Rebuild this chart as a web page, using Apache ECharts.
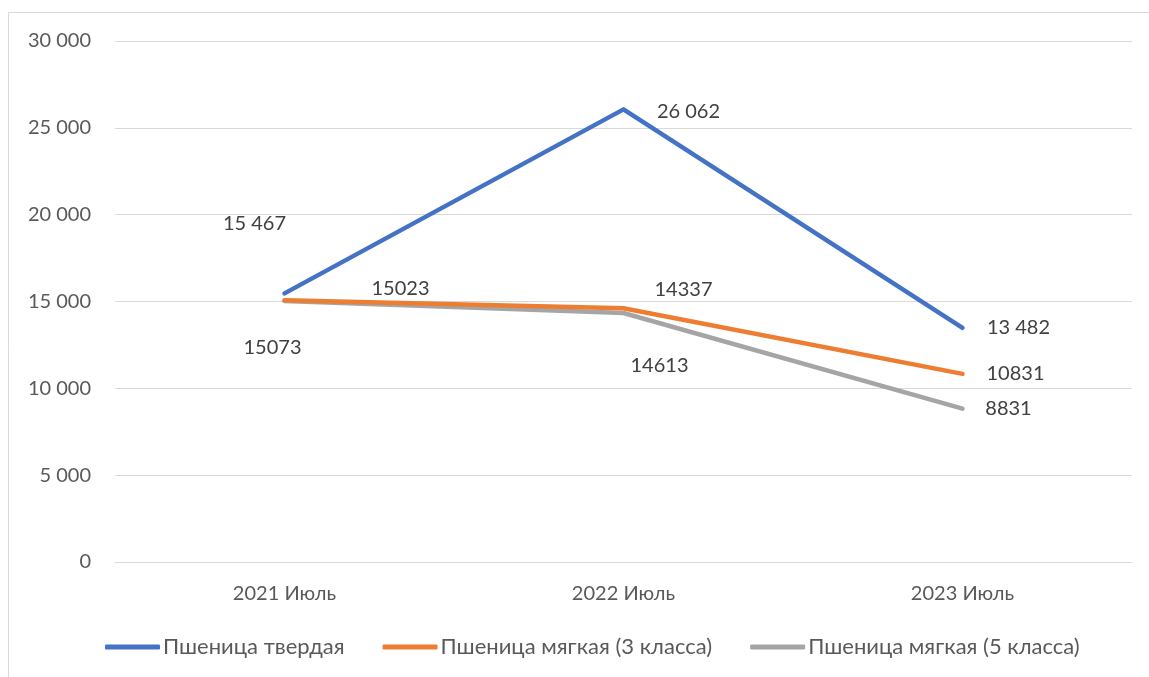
<!DOCTYPE html>
<html>
<head>
<meta charset="utf-8">
<script src="https://cdn.jsdelivr.net/npm/echarts@6/dist/echarts.min.js"></script>
<style>
html,body{margin:0;padding:0;background:#fff;}
#c{width:1149px;height:677px;}
</style>
</head>
<body>
<div id="c"></div>
<script>
const categories = ['2021 Июль', '2022 Июль', '2023 Июль'];
const seriesNames = ['Пшеница твердая', 'Пшеница мягкая (3 класса)', 'Пшеница мягкая (5 класса)'];
const durum = [15467, 26062, 13482];
const soft3 = [15073, 14613, 10831];
const soft5 = [15023, 14337, 8831];
const yTicks = [0, 5000, 10000, 15000, 20000, 25000, 30000];

const colors = ['#4472C4', '#ED7D31', '#A5A5A5'];
const labelOffsets = [
  [[-30, -70], [65, 2], [56, 0]],
  [[-12, 47], [36, 57], [53, 0]],
  [[116, -13], [60, -23], [46, 0]]
];
const FONT = 'Lato, "Open Sans", sans-serif';

function spaced(v) {
  return String(v).replace(/\B(?=(\d{3})+(?!\d))/g, ' ');
}

function makeSeries(name, values, idx, useSpace) {
  return {
    name: name,
    type: 'line',
    data: values,
    symbol: 'circle',
    symbolSize: 1,
    showSymbol: true,
    lineStyle: { width: 4.5, color: colors[idx], cap: 'round', join: 'round' },
    itemStyle: { color: colors[idx] },
    label: {
      show: true,
      position: 'inside',
      align: 'center',
      verticalAlign: 'middle',
      color: '#404040',
      fontSize: 20,
      fontFamily: FONT,
      formatter: p => useSpace ? spaced(p.value) : String(p.value)
    },
    labelLayout: p => ({
      dx: labelOffsets[idx][p.dataIndex][0],
      dy: labelOffsets[idx][p.dataIndex][1],
      hideOverlap: false
    }),
    z: 3 - idx
  };
}

const chart = echarts.init(document.getElementById('c'), null, { renderer: 'canvas' });
chart.setOption({
  animation: false,
  backgroundColor: '#fff',
  color: colors,
  graphic: [{
    type: 'rect',
    shape: { x: 8.5, y: 12.5, width: 1200, height: 700 },
    style: { fill: 'none', stroke: '#D9D9D9', lineWidth: 1 },
    silent: true
  }],
  grid: { left: 115, right: 17, top: 41, bottom: 115, containLabel: false },
  xAxis: {
    type: 'category',
    data: categories,
    boundaryGap: true,
    axisLine: { show: true, lineStyle: { color: '#D9D9D9', width: 1 } },
    axisTick: { show: false },
    axisLabel: { color: '#595959', fontSize: 20, fontFamily: FONT, margin: 22 }
  },
  yAxis: {
    type: 'value',
    min: yTicks[0],
    max: yTicks[yTicks.length - 1],
    interval: yTicks[1] - yTicks[0],
    axisLine: { show: false },
    axisTick: { show: false },
    splitLine: { lineStyle: { color: '#D9D9D9', width: 1 } },
    axisLabel: { color: '#595959', fontSize: 20, fontFamily: FONT, margin: 24, formatter: v => spaced(v) }
  },
  legend: {
    bottom: 14,
    left: 100,
    itemWidth: 55,
    itemHeight: 5,
    itemGap: 38,
    data: seriesNames.map((n, i) => ({
      name: n,
      icon: 'roundRect',
      itemStyle: { color: colors[i] }
    })),
    textStyle: { color: '#595959', fontSize: 22, fontFamily: FONT, padding: [0, 0, 0, -2] }
  },
  series: [
    makeSeries(seriesNames[0], durum, 0, true),
    makeSeries(seriesNames[1], soft3, 1, false),
    makeSeries(seriesNames[2], soft5, 2, false)
  ]
});
</script>
</body>
</html>
